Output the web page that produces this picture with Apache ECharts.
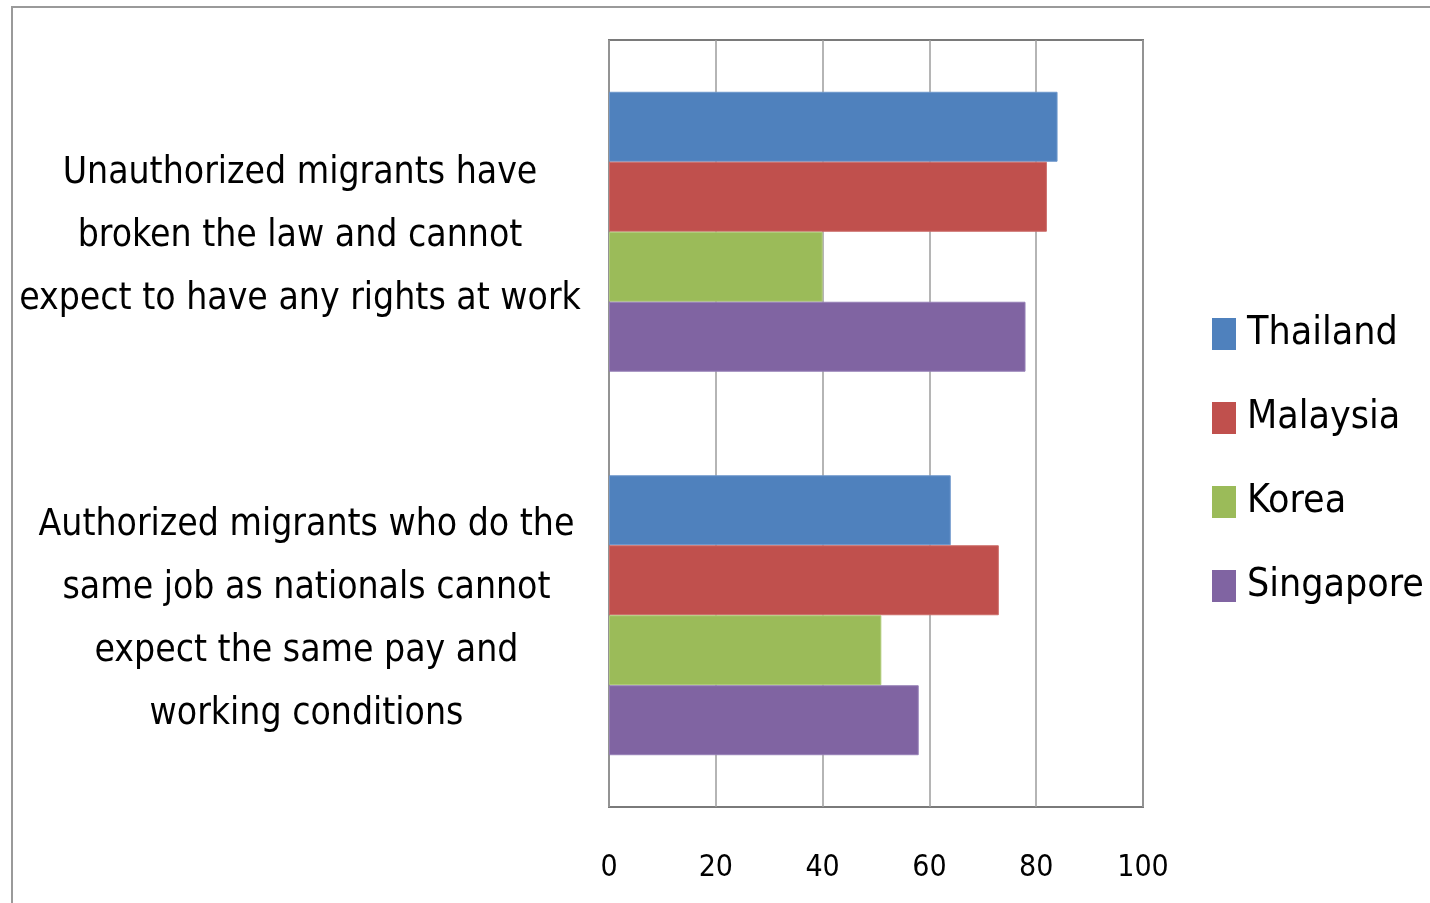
<!DOCTYPE html>
<html>
<head>
<meta charset="utf-8">
<script src="https://cdn.jsdelivr.net/npm/echarts@6/dist/echarts.min.js"></script>
<style>
html,body{margin:0;padding:0;background:#fff;overflow:hidden;}
#chart{width:1430px;height:903px;}
</style>
</head>
<body>
<div id="chart"></div>
<script>
const categories = [
  'Unauthorized migrants have\nbroken the law and cannot\nexpect to have any rights at work',
  'Authorized migrants who do the\nsame job as nationals cannot\nexpect the same pay and\nworking conditions'
];
const seriesNames = ['Thailand', 'Malaysia', 'Korea', 'Singapore'];
const thailand = [84, 64];
const malaysia = [82, 73];
const korea = [40, 51];
const singapore = [78, 58];
const xTicks = [0, 20, 40, 60, 80, 100];

const colors = ['#4F81BD', '#C0504D', '#9BBB59', '#8064A2'];
const borders = ['#6d97cc', '#cc6c69', '#afcb78', '#9680b6'];
const FONT = "'DejaVu Sans Condensed', 'Liberation Sans Narrow', sans-serif";
const values = [thailand, malaysia, korea, singapore];

const chart = echarts.init(document.getElementById('chart'));
chart.setOption({
  backgroundColor: '#fff',
  animation: false,
  graphic: [{
    type: 'rect',
    shape: { x: 12, y: 7, width: 1440, height: 1000 },
    style: { fill: 'none', stroke: '#9a9a9a', lineWidth: 2 },
    silent: true
  }],
  legend: {
    orient: 'vertical',
    left: 1212,
    top: 311,
    padding: 0,
    itemWidth: 24,
    itemHeight: 32,
    itemGap: 38,
    icon: 'rect',
    data: seriesNames,
    itemStyle: { borderWidth: 0 },
    textStyle: { fontFamily: FONT, fontSize: 39, color: '#000', lineHeight: 46, padding: [0, 0, 0, 6] }
  },
  grid: {
    left: 609, right: 287, top: 40, bottom: 96,
    outerBoundsMode: 'none', containLabel: false,
    show: true, borderColor: '#7a7a7a', borderWidth: 2, backgroundColor: 'transparent'
  },
  xAxis: {
    type: 'value', min: 0, max: 100, interval: 20,
    axisLine: { show: false }, axisTick: { show: false },
    splitLine: { show: true, lineStyle: { color: '#9c9c9c', width: 1.5 } },
    axisLabel: {
      margin: 46, fontFamily: FONT, fontSize: 30, color: '#000',
      formatter: function (v) { return xTicks.indexOf(v) >= 0 ? String(v) : ''; }
    }
  },
  yAxis: {
    type: 'category', inverse: true, data: categories,
    axisLine: { show: false }, axisTick: { show: false },
    axisLabel: {
      margin: 309, align: 'center', fontFamily: FONT, fontSize: 37, color: '#000', lineHeight: 63,
      padding: [10, 0, 0, 0],
      formatter: function (v, i) {
        const style = i === 0 ? 'a' : 'b';
        return v.split('\n').map(function (s) { return '{' + style + '|' + s + '}'; }).join('\n');
      },
      rich: {
        a: { fontFamily: FONT, fontSize: 37, color: '#000', lineHeight: 63 },
        b: { fontFamily: FONT, fontSize: 37, color: '#000', lineHeight: 63, padding: [0, 0, 0, 13] }
      }
    }
  },
  series: seriesNames.map(function (name, k) {
    return {
      name: name, type: 'bar', data: values[k],
      barGap: '0%', barCategoryGap: '27%',
      itemStyle: { color: colors[k], borderColor: borders[k], borderWidth: 1 }
    };
  })
});
</script>
</body>
</html>
